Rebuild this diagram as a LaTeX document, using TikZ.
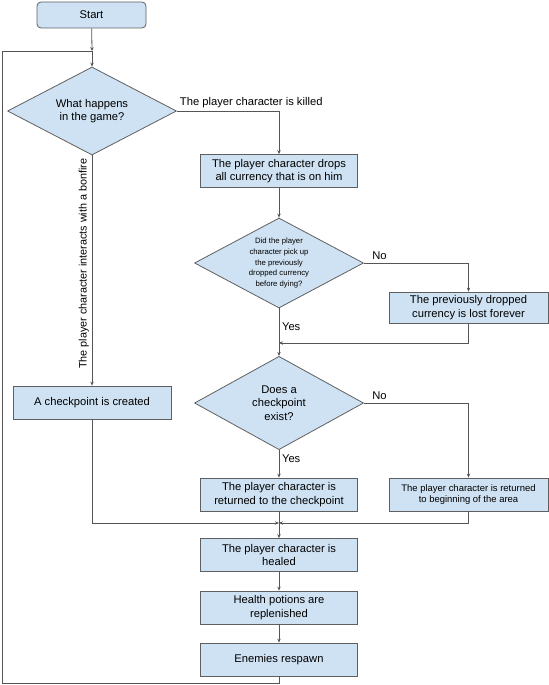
\documentclass[tikz,border=0pt]{standalone}
\usepackage{fontspec}
\setmainfont{Liberation Sans}
\usetikzlibrary{shapes.geometric,arrows.meta}
\definecolor{boxfill}{HTML}{CFE2F3}
\definecolor{boxline}{HTML}{5F5F5F}
\definecolor{wire}{HTML}{555555}
\tikzset{
  box/.style={draw=boxline, fill=boxfill, line width=0.6pt, align=center, inner sep=1pt,
    minimum width=117.75pt, minimum height=24.75pt, font=\fontsize{8.4}{10}\selectfont},
  decision/.style={draw=boxline, fill=boxfill, line width=0.6pt, diamond, aspect=1.9, align=center, inner sep=0pt,
    minimum width=126.75pt, minimum height=66pt, font=\fontsize{8.4}{10}\selectfont},
  line/.style={draw=wire, line width=0.6pt},
  arr/.style={line, -{Stealth[length=3pt,width=2.6pt]}},
  lbl/.style={font=\fontsize{8.4}{10}\selectfont, inner sep=2pt}
}
\begin{document}
\begin{tikzpicture}[x=0.75pt,y=-0.75pt]
  \useasboundingbox (0,0) rectangle (549,685);
  \node[box, rounded corners=3pt, minimum width=81.75pt, minimum height=19.5pt] (start) at (91.5,15) {Start};
  \node[decision] (happens) at (92,111) {What happens\\in the game?};
  \node[box] (drop) at (279,171) {The player character drops\\all currency that is on him};
  \node[decision, minimum height=67.5pt, font=\fontsize{5.8}{8}\selectfont] (pickup) at (279,263)
    {Did the player\\character pick up\\the previously\\dropped currency\\before dying?};
  \node[box, minimum width=119.25pt, minimum height=23.25pt] (lost) at (468.5,307.5) {The previously dropped\\currency is lost forever};
  \node[decision, minimum height=70pt] (exists) at (279,403) {Does a\\checkpoint\\exist?};
  \node[box, minimum width=118.5pt] (created) at (92,402.5) {A checkpoint is created};
  \node[box] (back) at (279,494.5) {The player character is\\returned to the checkpoint};
  \node[box, minimum width=119.25pt, font=\fontsize{7.1}{8.6}\selectfont] (area) at (468.5,494.5) {The player character is returned\\to beginning of the area};
  \node[box] (healed) at (279,555) {The player character is\\healed};
  \node[box] (potions) at (279,607.5) {Health potions are\\replenished};
  \node[box] (respawn) at (279,659.5) {Enemies respawn};
  \coordinate (join) at (92,51);
  \coordinate (merge1) at (279,343);
  \coordinate (merge2) at (279,523);

  \draw[arr] (start) -- (join);
  \draw[arr] (join) -- (happens);
  \draw[line] (respawn.south) |- (2,683) |- (join);
  \draw[arr] (happens.east) -| (drop.north) node[lbl, pos=0, anchor=south west] {The player character is killed};
  \draw[arr] (happens.south) -- node[lbl, rotate=90, above, pos=0.47, font=\fontsize{8.1}{10}\selectfont] {The player character interacts with a bonfire} (created.north);
  \draw[arr] (drop) -- (pickup);
  \draw[arr] (pickup.east) -| (lost.north) node[lbl, pos=0, anchor=south west, xshift=4pt] {No};
  \draw[arr] (pickup.south) -- node[lbl, right, pos=0.38] {Yes} (exists.north);
  \draw[arr] (lost.south) |- (merge1);
  \draw[arr] (exists.east) -| (area.north) node[lbl, pos=0, anchor=south west, xshift=4pt] {No};
  \draw[arr] (exists.south) -- node[lbl, right, pos=0.3] {Yes} (back.north);
  \draw[arr] (created.south) |- (merge2);
  \draw[arr] (area.south) |- (merge2);
  \draw[line] (back.south) -- (merge2);
  \draw[arr] (merge2) -- (healed.north);
  \draw[arr] (healed) -- (potions);
  \draw[arr] (potions) -- (respawn);
\end{tikzpicture}
\end{document}
